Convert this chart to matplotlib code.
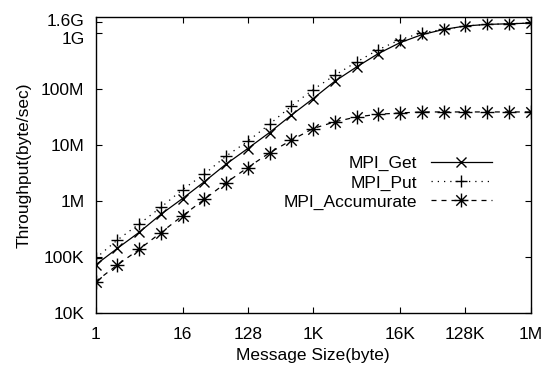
import matplotlib
matplotlib.use("Agg")
import matplotlib.pyplot as plt
from matplotlib.path import Path
from matplotlib.ticker import FixedLocator, FixedFormatter, NullLocator
from matplotlib.transforms import ScaledTranslation

plt.rcParams['font.family'] = ['Liberation Sans', 'DejaVu Sans']

# Data
sizes = [2 ** i for i in range(21)]
get_vals = [72.8e3, 144e3, 278e3, 582e3, 1.12e6, 2.23e6, 4.6e6, 8.75e6, 16.9e6,
            34.4e6, 68e6, 139e6, 250e6, 433e6, 680e6, 944e6, 1.17e9, 1.35e9,
            1.44e9, 1.48e9, 1.52e9]
put_vals = [95.7e3, 203e3, 392e3, 776e3, 1.62e6, 3.05e6, 6.4e6, 11.8e6, 23.8e6,
            49.8e6, 98.6e6, 178e6, 307e6, 509e6, 769e6, 1.02e9, 1.17e9, 1.35e9,
            1.44e9, 1.48e9, 1.52e9]
acc_vals = [36.7e3, 72.8e3, 138e3, 274e3, 551e3, 1.08e6, 2.14e6, 4.0e6, 7.33e6,
            12.3e6, 19.9e6, 26.2e6, 32.1e6, 35.8e6, 37.8e6, 39.4e6, 39.4e6, 39.4e6,
            39.4e6, 39.4e6, 39.4e6]
labels = ["MPI_Get", "MPI_Put", "MPI_Accumurate"]

xtick_vals = [1, 16, 128, 1024, 16384, 131072, 1048576]
xtick_labels = ["1", "16", "128", "1K", "16K", "128K", "1M"]
ytick_vals = [1e4, 1e5, 1e6, 1e7, 1e8, 1e9, 1.6e9]
ytick_labels = ["10K", "100K", "1M", "10M", "100M", "1G", "1.6G"]

# asterisk marker (plus overlaid with cross)
star_path = Path(
    [(-1, 0), (1, 0), (0, -1), (0, 1), (-0.75, -0.75), (0.75, 0.75), (-0.75, 0.75), (0.75, -0.75)],
    [Path.MOVETO, Path.LINETO] * 4)

fig = plt.figure(figsize=(5.44, 3.73), dpi=100)
ax = fig.add_axes([95.5 / 544, 1 - 313.3 / 373, (530.5 - 95.5) / 544, (313.3 - 17.3) / 373])

lw = 0.9
ax.plot(sizes, get_vals, color='black', lw=lw, ls='-', marker='x', ms=7.5, mew=1.0,
        label=labels[0])
ax.plot(sizes, put_vals, color='black', lw=lw, ls=(0, (1, 4)), marker='+', ms=9, mew=1.0,
        label=labels[1])
ax.plot(sizes, acc_vals, color='black', lw=lw, ls=(0, (4, 4)), marker=star_path, ms=10,
        mew=1.0, mfc='none', label=labels[2])

ax.set_xscale('log', base=2)
ax.set_yscale('log')
ax.set_xlim(1, 2 ** 20)
ax.set_ylim(1e4, 1.93e9)

ax.xaxis.set_major_locator(FixedLocator(xtick_vals))
ax.xaxis.set_major_formatter(FixedFormatter(xtick_labels))
ax.xaxis.set_minor_locator(NullLocator())
ax.yaxis.set_major_locator(FixedLocator(ytick_vals))
ax.yaxis.set_major_formatter(FixedFormatter(ytick_labels))
ax.yaxis.set_minor_locator(NullLocator())

ax.tick_params(axis='both', which='major', direction='in', length=4, width=0.8,
               top=True, right=True, labelsize=12.5, colors='black')
ax.tick_params(axis='x', pad=10)
ax.tick_params(axis='y', pad=8)
for s in ax.spines.values():
    s.set_linewidth(1.0)

# separate the two crowded top labels a little, as in the reference
yticks = ax.yaxis.get_major_ticks()
yticks[5].label1.set_transform(yticks[5].label1.get_transform() +
                               ScaledTranslation(0, -5 / 100, fig.dpi_scale_trans))
yticks[6].label1.set_transform(yticks[6].label1.get_transform() +
                               ScaledTranslation(0, 1.5 / 100, fig.dpi_scale_trans))

ax.set_xlabel("Message Size(byte)", fontsize=12.5, labelpad=4)
ax.set_ylabel("Throughput(byte/sec)", fontsize=12.5, labelpad=7)

leg = ax.legend(loc='upper right', bbox_to_anchor=(0.911, 0.531), frameon=False,
                markerfirst=False, fontsize=12.5, handlelength=3.5, handletextpad=0.8,
                labelspacing=0.22, borderpad=0, borderaxespad=0)

fig.savefig("out.png", dpi=100)
